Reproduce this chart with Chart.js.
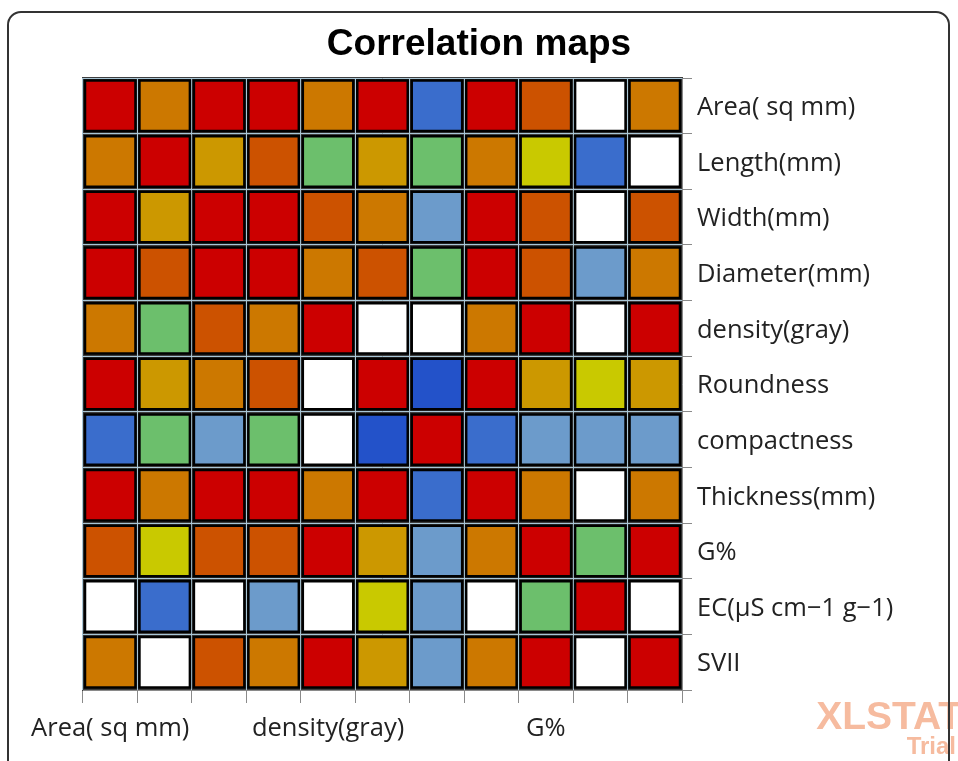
<!DOCTYPE html>
<html>
<head>
<meta charset="utf-8">
<title>Correlation maps</title>
<script src="https://cdn.jsdelivr.net/npm/chart.js@4.4.0/dist/chart.umd.min.js"></script>
<style>
  html, body { margin: 0; padding: 0; background: #fff; overflow: hidden; }
  #wrap { position: relative; width: 958px; height: 761px; }
  #frame { position: absolute; left: 7px; top: 11px; width: 939px; height: 760px;
           border: 2px solid #333; border-radius: 14px; pointer-events: none; }
</style>
</head>
<body>
<div id="wrap">
  <canvas id="corrMap" width="958" height="761"></canvas>
  <div id="frame"></div>
</div>
<script>
// variables, same order on both axes (rows top -> bottom, columns left -> right)
const variables = ['Area( sq mm)', 'Length(mm)', 'Width(mm)', 'Diameter(mm)', 'density(gray)',
  'Roundness', 'compactness', 'Thickness(mm)', 'G%', 'EC(µS cm−1 g−1)', 'SVII']

// estimated correlations read from the colours, null = white (blank) cell
const rowArea        = [1,    0.7,  0.95, 0.95, 0.7,  0.95, -0.1, 0.95, 0.8,  null, 0.7]
const rowLength      = [0.7,  1,    0.6,  0.8,  0.3,  0.6,  0.3,  0.7,  0.5,  -0.1, null]
const rowWidth       = [0.95, 0.6,  1,    0.95, 0.8,  0.7,  0.1,  0.95, 0.8,  null, 0.8]
const rowDiameter    = [0.95, 0.8,  0.95, 1,    0.7,  0.8,  0.3,  0.95, 0.8,  0.1,  0.7]
const rowDensity     = [0.7,  0.3,  0.8,  0.7,  1,    null, null, 0.7,  0.9,  null, 0.9]
const rowRoundness   = [0.95, 0.6,  0.7,  0.8,  null, 1,    -0.3, 0.9,  0.6,  0.5,  0.6]
const rowCompactness = [-0.1, 0.3,  0.1,  0.3,  null, -0.3, 1,    -0.1, 0.1,  0.1,  0.1]
const rowThickness   = [0.95, 0.7,  0.95, 0.95, 0.7,  0.9,  -0.1, 1,    0.7,  null, 0.7]
const rowG           = [0.8,  0.5,  0.8,  0.8,  0.9,  0.6,  0.1,  0.7,  1,    0.3,  0.9]
const rowEC          = [null, -0.1, null, 0.1,  null, 0.5,  0.1,  null, 0.3,  1,    null]
const rowSVII        = [0.7,  null, 0.8,  0.7,  0.9,  0.6,  0.1,  0.7,  0.9,  null, 1]

const corrRows = [rowArea, rowLength, rowWidth, rowDiameter, rowDensity, rowRoundness,
  rowCompactness, rowThickness, rowG, rowEC, rowSVII]

// colour classes (lower bound of each class)
const classLimits = [0.85, 0.75, 0.65, 0.55, 0.45, 0.2, 0, -0.2, -1]
const classColors = ['#cc0000', '#cc5200', '#cc7800', '#cc9800', '#c9c900', '#6cbf6c', '#6c9bcb', '#3a6dcc', '#2352c9']

function colorFor(v){
  if(v === null || v === undefined) return '#ffffff'
  for(var i=0;i<classLimits.length;i++){
    if(v >= classLimits[i]) return classColors[i]
  }
  return classColors[classColors.length-1]
}

var cells = []
for(var r=0;r<corrRows.length;r++){
  for(var c=0;c<corrRows[r].length;c++){
    cells.push({x: variables[c], y: variables[r], v: corrRows[r][c]})
  }
}

const labelFont = {family: "'Open Sans', sans-serif", size: 25.5}

function cellRadius(ctx){
  const a = ctx.chart.chartArea
  if(!a) return 30
  const step = Math.min((a.right - a.left) / variables.length, (a.bottom - a.top) / variables.length)
  return (step - 4) / Math.SQRT2
}

const plotBackground = {
  id: 'plotBackground',
  beforeDraw(chart){
    const a = chart.chartArea
    const ctx = chart.ctx
    ctx.save()
    ctx.fillStyle = '#3e3e3e'
    ctx.fillRect(a.left - 1, a.top - 1, a.right - a.left + 2, a.bottom - a.top + 2)
    ctx.restore()
  }
}

const watermark = {
  id: 'watermark',
  afterDraw(chart){
    const ctx = chart.ctx
    ctx.save()
    ctx.textAlign = 'right'
    ctx.textBaseline = 'alphabetic'
    ctx.fillStyle = '#f6bb9f'
    ctx.font = "bold 39px 'Liberation Sans', sans-serif"
    ctx.fillText('XLSTAT', 962, 729)
    ctx.font = "bold 24px 'Liberation Sans', sans-serif"
    ctx.fillText('Trial', 956, 754)
    ctx.restore()
  }
}

var corrChart = new Chart(document.getElementById('corrMap'), {
  type: 'scatter',
  data: {
    datasets: [{
      data: cells,
      pointStyle: 'rect',
      pointRadius: cellRadius,
      pointHoverRadius: cellRadius,
      backgroundColor: function(ctx){ return colorFor(ctx.raw ? ctx.raw.v : null) },
      borderColor: '#000000',
      borderWidth: 2.5,
      clip: 10
    }]
  },
  options: {
    responsive: false,
    animation: false,
    events: [],
    layout: {padding: 0},
    plugins: {
      legend: {display: false},
      tooltip: {enabled: false},
      title: {
        display: true,
        text: 'Correlation maps',
        color: '#000',
        font: {family: "'Liberation Sans', Arial, sans-serif", size: 37, weight: 'bold'},
        padding: {top: 23, bottom: 10.6}
      }
    },
    scales: {
      x: {
        type: 'category',
        labels: variables,
        offset: true,
        position: 'bottom',
        grid: {offset: true, color: '#a9c6d6', lineWidth: 1, drawTicks: true, tickLength: 13, tickColor: '#8a8a8a'},
        border: {display: true, color: '#8a8a8a', width: 1},
        ticks: {
          autoSkip: false, maxRotation: 0, minRotation: 0, padding: 10,
          color: '#222', font: labelFont,
          callback: function(val, i){ return i % 4 === 0 ? this.getLabelForValue(val) : '' }
        },
        afterFit: function(s){ s.height = 71 }
      },
      y: {
        type: 'category',
        labels: variables,
        offset: true,
        position: 'right',
        grid: {offset: true, color: '#a9c6d6', lineWidth: 1, drawTicks: true, tickLength: 10, tickColor: '#8a8a8a'},
        border: {display: true, color: '#8a8a8a', width: 1},
        ticks: {autoSkip: false, padding: 5, labelOffset: 2, color: '#222', font: labelFont},
        afterFit: function(s){ s.width = 276 }
      },
      // empty left margin axis, keeps the title centred on the whole figure
      yLeft: {
        type: 'category',
        labels: variables,
        position: 'left',
        grid: {display: false},
        border: {display: false},
        ticks: {display: false},
        afterFit: function(s){ s.width = 83 }
      }
    }
  },
  plugins: [plotBackground, watermark]
})
</script>
</body>
</html>
